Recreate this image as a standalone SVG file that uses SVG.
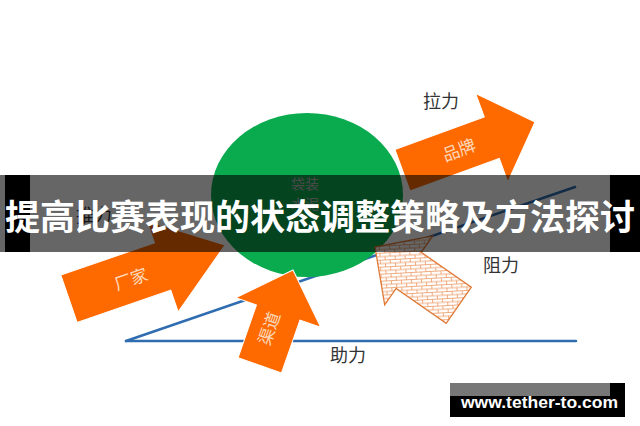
<svg xmlns="http://www.w3.org/2000/svg" width="640" height="426" viewBox="0 0 640 426">
  <defs>
    <pattern id="brick" patternUnits="userSpaceOnUse" width="10" height="7" patternTransform="rotate(-38)">
      <rect width="10" height="7" fill="#ffffff"/>
      <path d="M0 0.5H10M0 4H10M0.5 0.5V4M5.5 4V7.5" stroke="#ec9660" stroke-width="0.8" fill="none"/>
    </pattern>
    <style>
      .arrow { fill: #ff6a00; stroke: #ffffff; stroke-width: 1; }
      .lbl { font-family: "Noto Sans CJK SC", "Noto Sans", sans-serif; font-size: 17px; fill: #fcd8bb; text-anchor: middle; }
      .force { font-family: "Noto Sans CJK SC", "Noto Sans", sans-serif; font-size: 18px; fill: #333333; }
      .ball { font-family: "Noto Sans CJK SC", "Noto Sans", sans-serif; font-size: 14px; fill: #b8b8b8; text-anchor: middle; }
      .line { stroke: #2f6db0; stroke-width: 2.5; fill: none; stroke-linecap: round; }
    </style>
  </defs>
  <rect width="640" height="426" fill="#ffffff"/>

  <g id="connectors">
    <line class="line" x1="126" y1="341" x2="576" y2="341"/>
    <line class="line" x1="126" y1="341" x2="575" y2="187"/>
  </g>

  <g id="ball">
    <ellipse cx="307" cy="195" rx="96" ry="82" fill="#0aab4e"/>
    <text class="ball" x="305" y="189">袋装</text>
    <text class="ball" x="305" y="209">水泥</text>
  </g>

  <g id="pull">
    <polygon class="arrow" transform="translate(535 122) rotate(-20)" points="0,0 -46,-47 -46,-22 -141,-22 -141,22 -46,22 -46,47"/>
    <text class="lbl" transform="translate(535 122) rotate(-20)" x="-81" y="6.5">品牌</text>
    <text class="force" x="423" y="108">拉力</text>
  </g>

  <g id="push">
    <polygon class="arrow" transform="translate(225 245) rotate(-19)" points="0,0 -66,-48 -66,-25 -165,-25 -165,25 -66,25 -66,48"/>
    <text class="lbl" transform="translate(225 245) rotate(-19)" x="-100" y="8">厂家</text>
    <text class="force" x="76" y="222">推力</text>
  </g>

  <g id="channel">
    <polygon class="arrow" transform="translate(293 270) rotate(-70.8)" points="0,0 -45,-45 -45,-23 -101,-23 -101,23 -45,23 -45,45"/>
    <text class="lbl" transform="translate(293 270) rotate(-70.8)" x="-63" y="3">渠道</text>
    <text class="force" x="330" y="362">助力</text>
  </g>

  <g id="resist">
    <polygon transform="translate(375 247) rotate(214.8)" points="0,0 -41,-42 -41,-22 -102,-22 -102,22 -41,22 -41,42" fill="url(#brick)" stroke="#e07b39" stroke-width="1.3"/>
    <text class="force" x="483" y="272">阻力</text>
  </g>

  <g id="banner">
    <rect x="0" y="175" width="640" height="77" fill="#000000" fill-opacity="0.6"/>
    <rect x="5" y="175" width="25" height="77" fill="#000000"/>
    <rect x="610" y="175" width="30" height="77" fill="#000000"/>
    <text x="320" y="230" font-family="Noto Sans CJK SC, sans-serif" font-weight="bold" font-size="35" fill="#ffffff" text-anchor="middle">提高比赛表现的状态调整策略及方法探讨</text>
  </g>

  <g id="watermark">
    <rect x="450" y="383" width="175" height="34" fill="#000000"/>
    <rect x="450" y="383" width="160" height="13" fill="#777777"/>
    <text x="461" y="408" font-family="Liberation Sans, Arial, sans-serif" font-weight="bold" font-size="17" fill="#ffffff" textLength="157" lengthAdjust="spacingAndGlyphs">www.tether-to.com</text>
  </g>
</svg>
